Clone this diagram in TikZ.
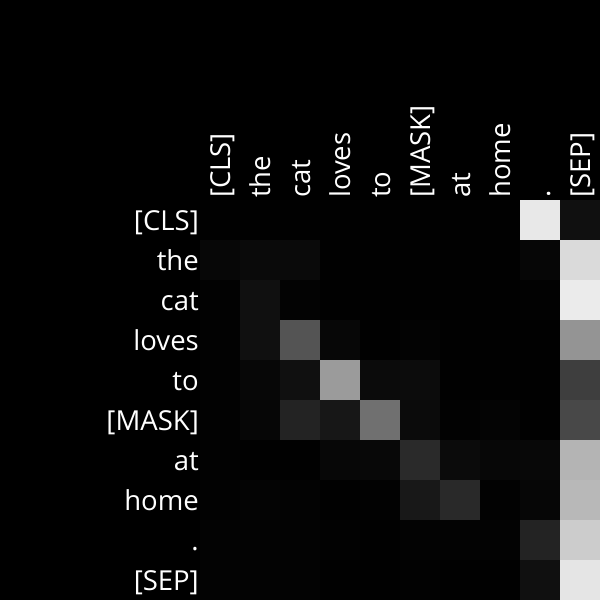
\documentclass[tikz,border=0pt]{standalone}
\usepackage{fontspec}
\setmainfont{Open Sans}
\begin{document}
\begin{tikzpicture}[x=1pt,y=-1pt,
  cell/.style={minimum size=40pt,inner sep=0pt,outer sep=0pt,draw=none},
  rowlab/.style={anchor=base east,inner sep=0pt,text=white,font=\fontsize{27.5}{30}\selectfont},
  collab/.style={anchor=base west,rotate=90,inner sep=0pt,text=white,font=\fontsize{27.5}{30}\selectfont}]
\fill[black] (0,0) rectangle (600,600);
\useasboundingbox (0,0) rectangle (600,600);
\foreach \rowvals [count=\r from 0] in {
 {1,1,1,1,1,1,1,1,232,16},
 {7,10,10,1,1,1,1,1,6,218},
 {2,16,3,1,1,1,1,1,2,235},
 {2,16,84,7,1,3,1,1,1,148},
 {2,7,16,155,11,12,1,1,1,62},
 {2,6,35,23,112,11,2,4,1,72},
 {2,1,1,7,8,42,11,7,8,180},
 {2,4,3,1,2,24,41,2,6,184},
 {3,3,3,2,1,3,3,3,35,204},
 {3,3,3,1,1,2,1,1,16,229}} {
  \foreach \v [count=\c from 0] in \rowvals {
    \node[cell,fill={rgb,255:red,\v;green,\v;blue,\v}] (c-\r-\c) at ({220+40*\c},{220+40*\r}) {};
  }
}
\foreach \t [count=\i from 0] in {[CLS],the,cat,loves,to,[MASK],at,home,.,[SEP]} {
  \node[rowlab] (r\i) at (199,{230+40*\i}) {\t};
  \node[collab] (k\i) at ({230+40*\i},198) {\t};
}
\end{tikzpicture}
\end{document}
